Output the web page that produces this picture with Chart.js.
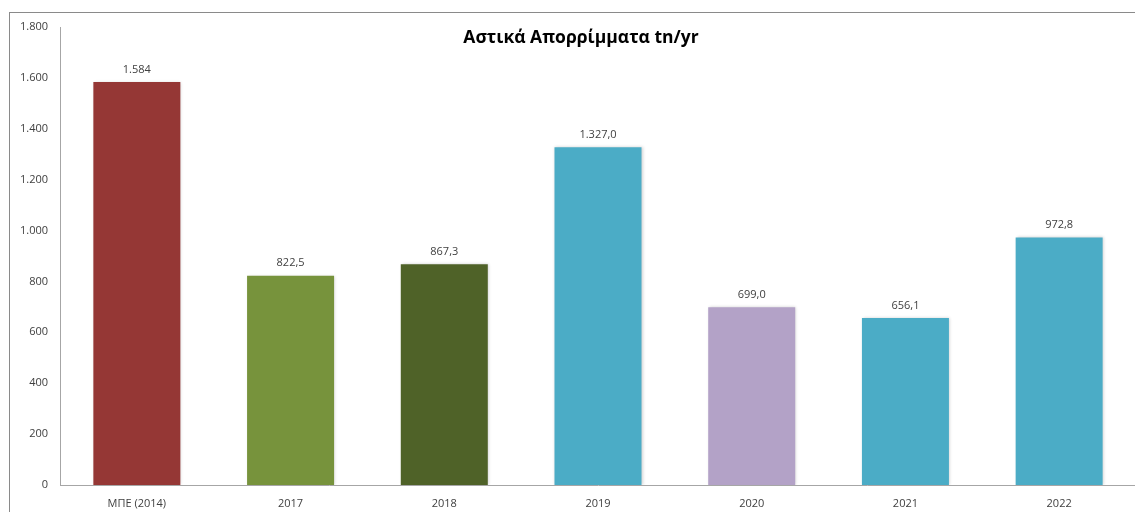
<!DOCTYPE html>
<html>
<head>
<meta charset="utf-8">
<script src="https://cdn.jsdelivr.net/npm/chart.js@4"></script>
<style>
  html, body { margin: 0; background: #fff; overflow: hidden; }
  #frame { position: absolute; left: 9px; top: 12px; width: 1126px; height: 500px; border-top: 1px solid #8a8a8a; border-left: 1px solid #8a8a8a; box-sizing: border-box; overflow: hidden; }
  #wrap { position: absolute; left: 0; top: 0; width: 1126px; height: 500px; }
</style>
</head>
<body>
<div id="frame"><div id="wrap"><canvas id="waste"></canvas></div></div>
<script>
const chartTitle = 'Αστικά Απορρίμματα tn/yr';
const labels = ['ΜΠΕ (2014)', '2017', '2018', '2019', '2020', '2021', '2022'];
const values = [1584, 822.5, 867.3, 1327.0, 699.0, 656.1, 972.8];
const decimals = [0, 1, 1, 1, 1, 1, 1];
const colors = ['#953735', '#77933C', '#4F6228', '#4BACC6', '#B3A2C7', '#4BACC6', '#4BACC6'];

// greek style numbers: 1.327,0
function fmt(v, d) {
    let parts = v.toFixed(d).split('.');
    parts[0] = parts[0].replace(/\B(?=(\d{3})+(?!\d))/g, '.');
    return parts.join(',');
}

const FONT = "'Open Sans', 'Noto Sans', sans-serif";

const barShadow = {
    id: 'barShadow',
    beforeDatasetsDraw(chart) {
        const ctx = chart.ctx;
        ctx.save();
        ctx.shadowColor = 'rgba(0,0,0,0.18)';
        ctx.shadowBlur = 3;
        ctx.shadowOffsetX = 1;
        ctx.shadowOffsetY = 0;
    },
    afterDatasetsDraw(chart) {
        chart.ctx.restore();
    }
};

const valueLabels = {
    id: 'valueLabels',
    afterDraw(chart) {
        const ctx = chart.ctx;
        const meta = chart.getDatasetMeta(0);
        ctx.save();
        ctx.font = '11px ' + FONT;
        ctx.fillStyle = '#404040';
        ctx.textAlign = 'center';
        ctx.textBaseline = 'bottom';
        meta.data.forEach((bar, i) => {
            ctx.fillText(fmt(values[i], decimals[i]), bar.x, bar.y - 7);
        });
        // title sits inside the plot area
        const area = chart.chartArea;
        ctx.font = 'bold 17.5px ' + FONT;
        ctx.fillStyle = '#000';
        ctx.textBaseline = 'middle';
        ctx.fillText(chartTitle, (area.left + area.right) / 2 - 17, 25);
        ctx.restore();
    }
};

const config = {
    type: 'bar',
    data: {
        labels: labels,
        datasets: [
            {
                data: values,
                backgroundColor: colors,
                borderWidth: 0,
                barPercentage: 0.566,
                categoryPercentage: 1.0
            }
        ]
    },
    options: {
        responsive: true,
        maintainAspectRatio: false,
        animation: false,
        layout: {
            padding: { top: 14, left: 0, right: 0, bottom: 0 }
        },
        plugins: {
            legend: { display: false },
            tooltip: { enabled: false }
        },
        scales: {
            x: {
                grid: { display: false, drawTicks: false },
                border: { display: true, color: '#a6a6a6', width: 1 },
                ticks: {
                    color: '#404040',
                    padding: 12,
                    maxRotation: 0,
                    font: { family: FONT, size: 11 }
                },
                afterFit(scale) {
                    scale.height = 28;
                    scale.paddingLeft = 0;
                    scale.paddingRight = 0;
                }
            },
            y: {
                min: 0,
                max: 1800,
                grid: { display: false, drawTicks: false },
                border: { display: true, color: '#a6a6a6', width: 1 },
                ticks: {
                    stepSize: 200,
                    color: '#404040',
                    padding: 12,
                    font: { family: FONT, size: 11 },
                    callback: (v) => fmt(v, 0)
                },
                afterFit(scale) {
                    scale.width = 50;
                    scale.paddingTop = 0;
                    scale.paddingBottom = 0;
                }
            }
        }
    },
    plugins: [barShadow, valueLabels]
};

var wasteChart = new Chart(document.getElementById('waste'), config);
</script>
</body>
</html>
